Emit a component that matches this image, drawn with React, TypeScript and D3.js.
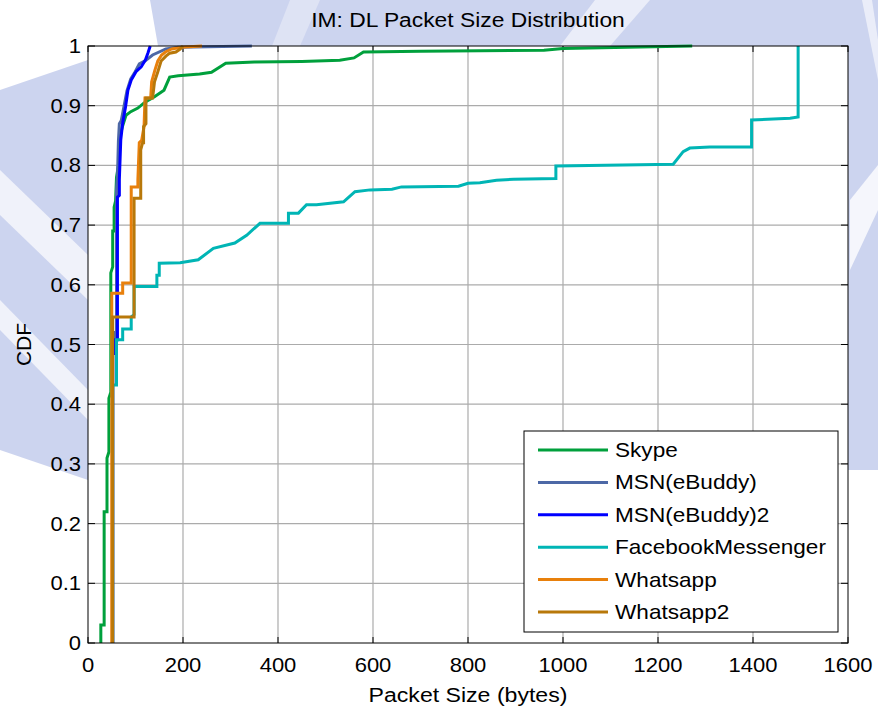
import React from "react";
import * as d3 from "d3";

const xTicks = [0, 200, 400, 600, 800, 1000, 1200, 1400, 1600];
const yTicks = [0, 0.1, 0.2, 0.3, 0.4, 0.5, 0.6, 0.7, 0.8, 0.9, 1];
const yTickLabels = ["0", "0.1", "0.2", "0.3", "0.4", "0.5", "0.6", "0.7", "0.8", "0.9", "1"];

const seriesNames = ["Skype", "MSN(eBuddy)", "MSN(eBuddy)2", "FacebookMessenger", "Whatsapp", "Whatsapp2"];
const seriesColors = ["#00a03c", "#4d68a6", "#0000ff", "#00b5b5", "#e8800c", "#b8780a"];

const skype: [number, number][] = [
  [27, 0], [27, 0.03], [34, 0.03], [34, 0.22], [40, 0.22], [40, 0.31], [44, 0.32], [44, 0.41],
  [48, 0.42], [48, 0.62], [52, 0.63], [52, 0.69], [55, 0.69], [55, 0.73], [58, 0.74], [60, 0.78],
  [64, 0.8], [66, 0.82], [68, 0.85], [72, 0.864], [80, 0.884], [90, 0.89], [105, 0.896], [120, 0.906],
  [140, 0.915], [160, 0.926], [172, 0.948], [190, 0.95], [235, 0.953], [260, 0.956], [290, 0.971],
  [350, 0.973], [450, 0.974], [530, 0.976], [560, 0.98], [580, 0.99], [700, 0.991], [960, 0.993],
  [1000, 0.996], [1272, 1.0],
];

const msn: [number, number][] = [
  [52, 0], [52, 0.49], [56, 0.49], [56, 0.52], [60, 0.52], [60, 0.76], [62, 0.78], [64, 0.84],
  [66, 0.87], [70, 0.875], [76, 0.9], [82, 0.925], [90, 0.945], [98, 0.955], [108, 0.97],
  [120, 0.975], [136, 0.985], [164, 0.995], [190, 0.998], [345, 1.0],
];

const msn2: [number, number][] = [
  [52, 0], [52, 0.485], [58, 0.485], [58, 0.508], [62, 0.508], [62, 0.747], [66, 0.75], [66, 0.776],
  [69, 0.843], [73, 0.871], [79, 0.898], [84, 0.926], [91, 0.943], [101, 0.957], [112, 0.965],
  [121, 0.977], [126, 0.988], [131, 1.0],
];

const facebook: [number, number][] = [
  [52, 0], [52, 0.432], [60, 0.432], [60, 0.508], [73, 0.508], [73, 0.526], [91, 0.526], [91, 0.546],
  [97, 0.55], [97, 0.597], [145, 0.597], [145, 0.616], [150, 0.616], [150, 0.636], [194, 0.637],
  [232, 0.642], [264, 0.661], [309, 0.67], [334, 0.683], [362, 0.703], [422, 0.703], [422, 0.72],
  [443, 0.72], [460, 0.734], [481, 0.734], [538, 0.739], [562, 0.756], [594, 0.759], [640, 0.76],
  [660, 0.764], [780, 0.765], [800, 0.77], [825, 0.771], [860, 0.775], [896, 0.777], [985, 0.778],
  [985, 0.799], [1232, 0.802], [1253, 0.823], [1267, 0.829], [1309, 0.831], [1397, 0.831],
  [1397, 0.876], [1478, 0.879], [1495, 0.881], [1495, 1.0],
];

const whatsapp: [number, number][] = [
  [50, 0], [50, 0.586], [73, 0.586], [73, 0.603], [91, 0.603], [91, 0.764], [105, 0.764], [105, 0.776],
  [108, 0.838], [113, 0.842], [118, 0.865], [120, 0.913], [132, 0.913], [134, 0.94], [141, 0.96],
  [147, 0.975], [155, 0.985], [163, 0.99], [176, 0.995], [196, 0.998], [240, 1.0],
];

const whatsapp2: [number, number][] = [
  [52, 0], [52, 0.546], [97, 0.546], [97, 0.745], [111, 0.745], [111, 0.826], [115, 0.838],
  [117, 0.838], [117, 0.865], [122, 0.87], [122, 0.913], [136, 0.913], [140, 0.94], [147, 0.957],
  [154, 0.975], [164, 0.983], [172, 0.988], [185, 0.99], [194, 0.995], [200, 1.0],
];

const allSeries = [skype, msn, msn2, facebook, whatsapp, whatsapp2];

const W = 878;
const H = 709;
const L = 88, R = 848, T = 46, B = 643;
const FONT = "'Liberation Sans', Arial, Helvetica, sans-serif";

function STxt(props: { x: number; y: number; size: number; sx?: number; anchor?: string; children: any; rotate?: number }) {
  const { x, y, size, sx = 1.12, anchor = "start", children, rotate = 0 } = props;
  return (
    <text
      transform={`translate(${x},${y}) rotate(${rotate}) scale(${sx},1)`}
      textAnchor={anchor as any}
      fontSize={size}
      fontFamily={FONT}
      fill="#000"
    >
      {children}
    </text>
  );
}

export default function App() {
  const x = d3.scaleLinear().domain([0, 1600]).range([L, R]);
  const y = d3.scaleLinear().domain([0, 1]).range([B, T]);
  const line = d3
    .line<[number, number]>()
    .x((d) => x(d[0]))
    .y((d) => y(d[1]));

  const lav = "#bcc6ea";
  const legX = 524, legY = 431, legW = 314, legH = 201;
  const rowY0 = 450, rowStep = 32.4;

  return (
    <svg
      width={W}
      height={H}
      viewBox={`0 0 ${W} ${H}`}
      style={{ position: "absolute", left: 0, top: 0, display: "block", background: "#fff" }}
    >
      {/* watermark approximation */}
      <g opacity={0.75}>
        <path d="M150,0 L878,0 L878,470 L848,470 L848,46 L158,46 Z" fill={lav} />
        <path d="M0,90 L88,60 L88,480 L0,450 Z" fill={lav} />
        <path d="M595,0 L650,0 L610,46 L560,46 Z" fill="#fff" opacity={0.6} />
        <path d="M290,0 L320,0 L300,46 L272,46 Z" fill="#fff" opacity={0.35} />
        <path d="M0,170 L0,215 L88,300 L88,255 Z" fill="#fff" opacity={0.7} />
        <path d="M0,300 L0,330 L88,420 L88,390 Z" fill="#fff" opacity={0.7} />
        <path d="M850,200 L878,165 L878,210 L850,270 Z" fill="#fff" opacity={0.8} />
        <path d="M862,0 L872,0 L878,40 L878,80 Z" fill="#fff" opacity={0.6} />
      </g>

      {/* axes background */}
      <rect x={L} y={T} width={R - L} height={B - T} fill="#fff" />

      {/* grid */}
      {xTicks.slice(1, -1).map((t) => (
        <line key={"gx" + t} x1={x(t)} x2={x(t)} y1={T} y2={B} stroke="#ababab" strokeWidth={1.2} />
      ))}
      {yTicks.slice(1, -1).map((t) => (
        <line key={"gy" + t} x1={L} x2={R} y1={y(t)} y2={y(t)} stroke="#ababab" strokeWidth={1.2} />
      ))}

      {/* ticks (inward, both sides) */}
      {xTicks.map((t) => (
        <g key={"tx" + t}>
          <line x1={x(t)} x2={x(t)} y1={B} y2={B - 6} stroke="#000" strokeWidth={1} />
          <line x1={x(t)} x2={x(t)} y1={T} y2={T + 6} stroke="#000" strokeWidth={1} />
        </g>
      ))}
      {yTicks.map((t) => (
        <g key={"ty" + t}>
          <line x1={L} x2={L + 7} y1={y(t)} y2={y(t)} stroke="#000" strokeWidth={1} />
          <line x1={R} x2={R - 7} y1={y(t)} y2={y(t)} stroke="#000" strokeWidth={1} />
        </g>
      ))}

      {/* series */}
      <g fill="none" strokeWidth={3} strokeLinejoin="miter" strokeLinecap="butt">
        {allSeries.map((s, i) => (
          <path key={"s" + i} d={line(s) || ""} stroke={seriesColors[i]} />
        ))}
      </g>

      {/* axes box */}
      <rect x={L} y={T} width={R - L} height={B - T} fill="none" stroke="#000" strokeWidth={1} />

      {/* tick labels */}
      {xTicks.map((t) => (
        <STxt key={"lx" + t} x={x(t)} y={672} size={20} anchor="middle" sx={1.1}>
          {String(t)}
        </STxt>
      ))}
      {yTicks.map((t, i) => (
        <STxt key={"ly" + t} x={81} y={y(t) + 7} size={20} anchor="end" sx={1.1}>
          {yTickLabels[i]}
        </STxt>
      ))}

      {/* title and axis labels */}
      <STxt x={(L + R) / 2} y={27} size={19.5} anchor="middle" sx={1.17}>
        IM: DL Packet Size Distribution
      </STxt>
      <STxt x={(L + R) / 2} y={702} size={21} anchor="middle" sx={1.1}>
        Packet Size (bytes)
      </STxt>
      <STxt x={31} y={(T + B) / 2} size={21} anchor="middle" sx={1} rotate={-90}>
        CDF
      </STxt>

      {/* legend */}
      <rect x={legX} y={legY} width={legW} height={legH} fill="#fff" stroke="#000" strokeWidth={1} />
      {seriesNames.map((n, i) => {
        const ry = rowY0 + i * rowStep;
        return (
          <g key={"lg" + i}>
            <line x1={538} x2={608} y1={ry} y2={ry} stroke={seriesColors[i]} strokeWidth={3} />
            <STxt x={615} y={ry + 7} size={20} sx={1.13}>
              {n}
            </STxt>
          </g>
        );
      })}
    </svg>
  );
}
